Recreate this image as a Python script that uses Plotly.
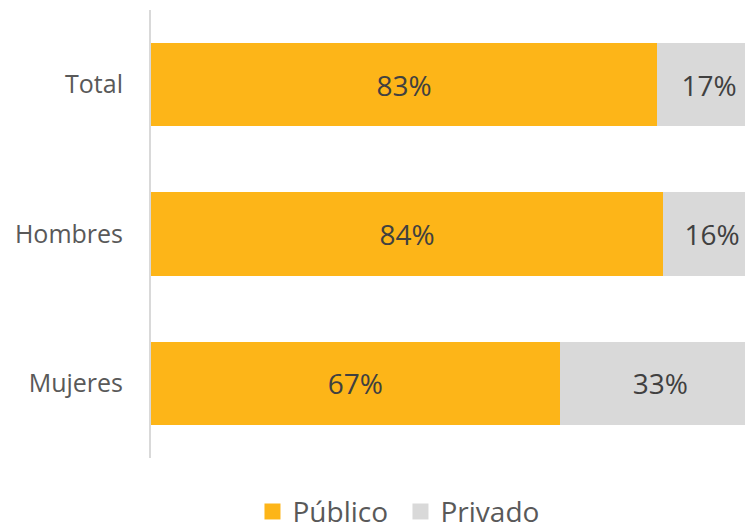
import plotly.graph_objects as go

categories = ["Total", "Hombres", "Mujeres"]
publico = [83, 84, 67]
privado = [17, 16, 33]
series_names = ["Público", "Privado"]
colors = ["#FDB518", "#D9D9D9"]

fig = go.Figure()
for name, vals, col in zip(series_names, [publico, privado], colors):
    fig.add_trace(go.Bar(
        y=categories, x=vals, name=name, orientation="h",
        marker=dict(color=col, line=dict(width=0)),
        text=[f"{v}%" for v in vals], textposition="inside",
        insidetextanchor="middle",
        textfont=dict(size=28, color="#404040", family="Open Sans"),
        hoverinfo="skip", showlegend=False,
    ))
    # legend entry with a larger square symbol
    fig.add_trace(go.Scatter(
        x=[None], y=[None], mode="markers", name=name,
        marker=dict(symbol="square", size=18, color=col),
        hoverinfo="skip",
    ))

fig.update_layout(
    barmode="stack", bargap=0.44,
    width=745, height=523, autosize=False,
    margin=dict(l=151, r=0, t=10, b=65, autoexpand=False),
    paper_bgcolor="white", plot_bgcolor="white",
    font=dict(family="Open Sans", color="#595959"),
    showlegend=True,
    legend=dict(orientation="h", x=0.42, xanchor="center", y=-0.12, yanchor="middle",
                font=dict(size=28, color="#595959"), traceorder="normal",
                itemsizing="trace", entrywidth=103),
)
# the original chart is cropped on the right: 100% lies just beyond the edge
fig.update_xaxes(range=[0, 97.4], visible=False, showgrid=False)
fig.update_yaxes(categoryorder="array", categoryarray=categories, autorange="reversed",
                 showline=True, linecolor="#D9D9D9", linewidth=2, showgrid=False,
                 ticks="", tickfont=dict(size=25, color="#595959"), ticklabelstandoff=21)

fig.write_html("out.html", config={"responsive": False, "displayModeBar": False},
               post_script="document.body.style.margin='0';document.body.style.overflow='hidden';")
